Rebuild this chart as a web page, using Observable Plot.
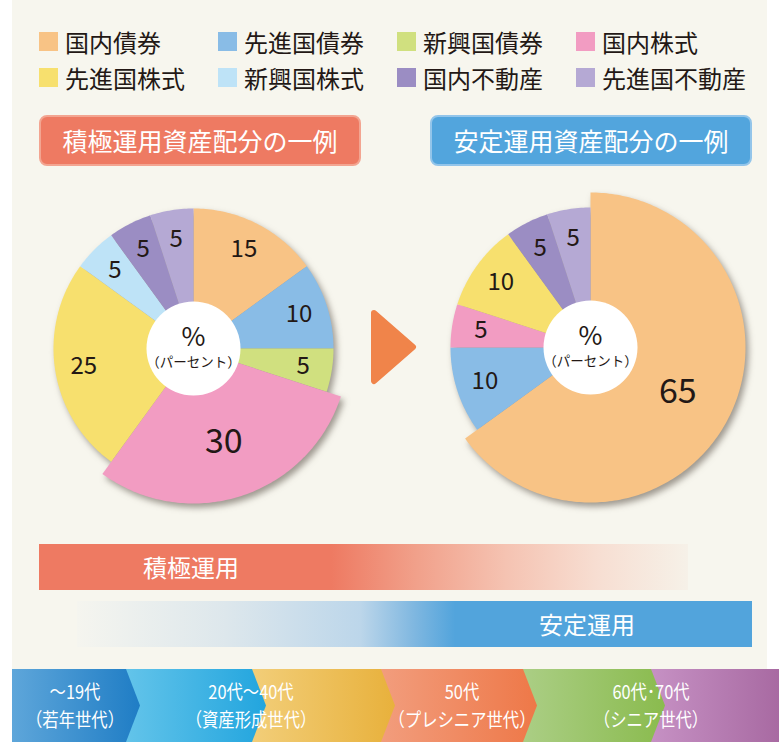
<!DOCTYPE html>
<html><head><meta charset="utf-8">
<script src="https://cdn.jsdelivr.net/npm/d3@7"></script>
<script src="https://cdn.jsdelivr.net/npm/@observablehq/plot@0.6"></script>
<style>
html,body{margin:0;padding:0;background:#fff;}
body{width:779px;height:742px;position:relative;overflow:hidden;font-family:"Noto Sans CJK JP","Noto Sans",sans-serif;color:#231815;}
#panel{position:absolute;left:12px;top:0;width:755px;height:669px;background:#F7F6EE;}
.abs{position:absolute;}
.sw{position:absolute;width:19px;height:19px;}
.lt{position:absolute;font-size:24px;line-height:19px;height:19px;white-space:nowrap;color:#231815;}
.hdr{position:absolute;width:318px;height:47px;border-radius:8px;color:#fff;font-size:25px;line-height:47px;text-align:center;white-space:nowrap;}
.bar{position:absolute;height:46px;}
.barlbl{position:absolute;color:#fff;font-size:24px;line-height:46px;white-space:nowrap;}
.seg{position:absolute;top:669px;height:73px;}
.age{position:absolute;color:#fff;font-size:19px;line-height:19px;height:19px;text-align:center;white-space:nowrap;transform:translateX(-50%) scaleX(0.86);transform-origin:center;}
</style></head><body>
<div id="panel"></div>
<div id="root"></div>
<script>
// ---- data ----
const categories = ["国内債券","先進国債券","新興国債券","国内株式","先進国株式","新興国株式","国内不動産","先進国不動産"];
const colors = ["#F8C385","#89BCE6","#D0E07F","#F29CC2","#F7E06E","#BEE3F7","#9B8DC3","#B5A9D4"];
const aggressiveValues = [15,10,5,30,25,5,5,5];
const stableValues = [65,10,0,5,10,0,5,5];
const pieTitles = ["積極運用資産配分の一例","安定運用資産配分の一例"];
const centerLabels = ["%","（パーセント）"];
const barLabels = ["積極運用","安定運用"];
const ageLine1 = ["～19代","20代～40代","50代","60代･70代"];
const ageLine2 = ["（若年世代）","（資産形成世代）","（プレシニア世代）","（シニア世代）"];

const root = document.getElementById("root");
const FONT = '"Noto Sans CJK JP","Noto Sans",sans-serif';

function el(cls, style, text) {
  const d = document.createElement("div");
  if (cls) d.className = cls;
  Object.assign(d.style, style);
  if (text != null) d.textContent = text;
  root.appendChild(d);
  return d;
}

// ---- legend ----
categories.forEach((c, i) => {
  const col = i % 4, row = Math.floor(i / 4);
  const x = 39 + col * 179, y = 32 + row * 36;
  el("sw", {left: x + "px", top: y + "px", background: colors[i]});
  el("lt", {left: (x + 26) + "px", top: y + "px"}, c);
});

// ---- headers ----
el("hdr", {left: "39px", top: "115px", background: "#EE7A62", border: "2px solid #F3A591"}, pieTitles[0]);
el("hdr", {left: "430px", top: "115px", background: "#52A5DD", border: "2px solid #93C5EA"}, pieTitles[1]);

// ---- pies ----
function pie(values, cx, cy) {
  const total = d3.sum(values);
  const maxV = d3.max(values);
  const wedges = [], labels = [];
  let acc = 0;
  values.forEach((v, i) => {
    if (v <= 0) return;
    const a0 = acc / total * 2 * Math.PI, a1 = (acc + v) / total * 2 * Math.PI;
    acc += v;
    const big = v === maxV;
    const r = big ? 155 : 140;
    const n = Math.max(2, Math.ceil((a1 - a0) / (Math.PI / 180)));
    wedges.push({cat: categories[i], x: 0, y: 0});
    for (let k = 0; k <= n; k++) {
      const a = a0 + (a1 - a0) * k / n;
      wedges.push({cat: categories[i], x: r * Math.sin(a), y: r * Math.cos(a)});
    }
    wedges.push({cat: categories[i], x: 0, y: 0});
    const am = (a0 + a1) / 2, lr = big ? 98 : 111;
    labels.push({x: lr * Math.sin(am), y: lr * Math.cos(am), text: String(v), big});
  });
  const svg = Plot.plot({
    width: 340, height: 340, margin: 0,
    x: {domain: [-170, 170], axis: null},
    y: {domain: [-170, 170], axis: null},
    color: {domain: categories, range: colors},
    style: {background: "transparent", overflow: "visible", fontFamily: FONT},
    marks: [
      Plot.line(wedges, {x: "x", y: "y", z: "cat", fill: "cat", stroke: "none"}),
      Plot.dot([{x: 0, y: 0}], {x: "x", y: "y", r: 47, fill: "white", stroke: "none"}),
      Plot.text(labels.filter(d => !d.big), {x: "x", y: "y", text: "text", fontSize: 24, fill: "#231815"}),
      Plot.text(labels.filter(d => d.big), {x: "x", y: "y", text: "text", fontSize: 34, fill: "#231815"}),
      Plot.text([{x: 0, y: 0}], {x: "x", y: "y", text: () => centerLabels[0], dy: -11, fontSize: 26, fill: "#231815"}),
      Plot.text([{x: 0, y: 0}], {x: "x", y: "y", text: () => centerLabels[1], dy: 14, fontSize: 13.5, fill: "#231815"})
    ]
  });
  d3.select(svg).selectAll('g[aria-label="line"]').style("filter", "drop-shadow(3px 4px 3px rgba(70,60,50,0.5))");
  const wrap = el("abs", {left: (cx - 170) + "px", top: (cy - 170) + "px", width: "340px", height: "340px"});
  wrap.appendChild(svg);
}
pie(aggressiveValues, 193, 348);
pie(stableValues, 590, 347);

// ---- arrow between pies ----
const tri = d3.create("svg").attr("width", 60).attr("height", 90)
  .style("position", "absolute").style("left", "364px").style("top", "302px");
tri.append("polygon").attr("points", "10,11 49,45 10,79")
  .attr("fill", "#F0844A").attr("stroke", "#F0844A").attr("stroke-width", 6).attr("stroke-linejoin", "round");
root.appendChild(tri.node());

// ---- gradient bars ----
el("bar", {left: "39px", top: "544px", width: "649px",
  background: "linear-gradient(to right,#EE7A62 0%,#EE7A62 45%,#F1A08A 58%,#F5C3B2 72%,#F7DED2 86%,#F6F1E8 100%)"});
el("barlbl", {left: "143px", top: "544px"}, barLabels[0]);
el("bar", {left: "77px", top: "601px", width: "675px",
  background: "linear-gradient(to right,#F5F5EF 0%,#DDE7EC 22%,#BCD6EA 42%,#7FB7E0 50%,#52A4DC 56%,#52A4DC 100%)"});
el("barlbl", {left: "539px", top: "601px"}, barLabels[1]);

// ---- bottom age band ----
const segStart = [12, 126, 252, 381, 523, 651];
const segEnd = [126, 252, 381, 523, 651, 779];
const segGrad = [["#5EA6DA","#1F7DC5"],["#63C4EA","#22A5DE"],["#F2CE79","#E8B13C"],["#F29D7D","#EE7848"],["#ABCE85","#8ABB4E"],["#C691C4","#A86AA2"]];
const TIP = 14;
for (let i = segStart.length - 1; i >= 0; i--) {
  const last = i === segStart.length - 1;
  const w = segEnd[i] - segStart[i] + (last ? 0 : TIP);
  el("seg", {left: segStart[i] + "px", width: w + "px",
    background: `linear-gradient(to right,${segGrad[i][0]},${segGrad[i][1]})`,
    clipPath: last ? "none" : `polygon(0 0,${w - TIP}px 0,${w}px 50%,${w - TIP}px 100%,0 100%)`});
}
const ageCenters = [75, 251, 462, 651];
ageLine1.forEach((t, i) => {
  el("age", {left: ageCenters[i] + "px", top: "681px"}, t);
  el("age", {left: ageCenters[i] + "px", top: "709px"}, ageLine2[i]);
});
</script>
</body></html>
